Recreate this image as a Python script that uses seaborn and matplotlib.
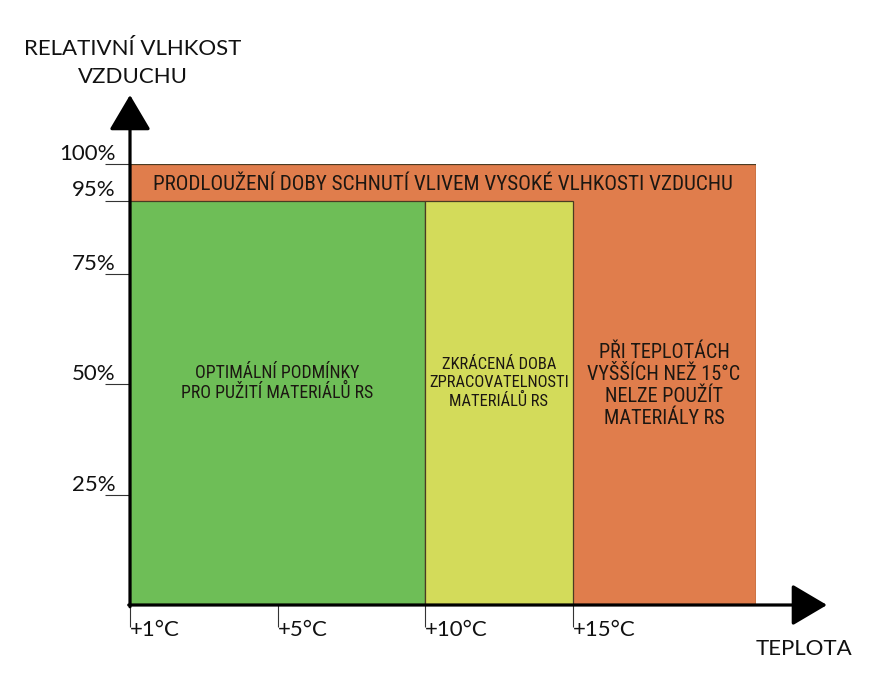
import numpy as np
import pandas as pd
import matplotlib
matplotlib.use("Agg")
import matplotlib.pyplot as plt
import seaborn as sns

# ---------------- data ----------------
# relative humidity ticks (%) and their labels
RH_TICKS = [25, 50, 75, 95, 100]
RH_TICK_LABELS = ["25%", "50%", "75%", "95%", "100%"]
# temperature ticks (°C) and labels
TEMP_TICKS = [1, 5, 10, 15]
TEMP_TICK_LABELS = ["+1°C", "+5°C", "+10°C", "+15°C"]

# zones (drawn in this order)
ZONE_NAMES = ["vlhkost", "optimalni", "zkracena"]
ZONE_T_START = [1, 1, 10]
ZONE_T_END = [21.2, 10, 15]
ZONE_RH_LOW = [0, 0, 0]
ZONE_RH_HIGH = [100, 95, 95]
ZONE_COLORS = ["#E07D4C", "#6EBE57", "#D3DB5A"]

# zone texts
LABEL_TEXTS = [
    "PRODLOUŽENÍ DOBY SCHNUTÍ VLIVEM VYSOKÉ VLHKOSTI VZDUCHU",
    "OPTIMÁLNÍ PODMÍNKY\nPRO PUŽITÍ MATERIÁLŮ RS",
    "ZKRÁCENÁ DOBA\nZPRACOVATELNOSTI\nMATERIÁLŮ RS",
    "PŘI TEPLOTÁCH\nVYŠŠÍCH NEŽ 15°C\nNELZE POUŽÍT\nMATERIÁLY RS",
]
LABEL_T_RANGE = [(1, 21.2), (1, 10), (10, 15), (15, 21.2)]
LABEL_RH = [97.2, 50.2, 50.2, 49.7]

Y_TITLE = "RELATIVNÍ VLHKOST\nVZDUCHU"
X_TITLE = "TEPLOTA"

# ---------------- axis scales (non-uniform, as in the original) ----------------
_RH_REF = [0, 25, 50, 75, 95, 100]
_RH_POS = [0, 110, 221, 331, 404.5, 441]
_T_REF = [1, 5, 10, 15]
_T_POS = [0, 1, 2, 3]


def y_fwd(v):
    return np.interp(np.asarray(v, float), _RH_REF, _RH_POS)


def y_inv(p):
    return np.interp(np.asarray(p, float), _RH_POS, _RH_REF)


def x_fwd(t):
    t = np.asarray(t, float)
    return np.where(t <= 15, np.interp(t, _T_REF, _T_POS), 3 + (t - 15) / 5.0)


def x_inv(p):
    p = np.asarray(p, float)
    return np.where(p <= 3, np.interp(p, _T_POS, _T_REF), 15 + (p - 3) * 5.0)


# ---------------- style ----------------
sns.set_theme(style="white")
plt.rcParams["font.family"] = ["Lato", "DejaVu Sans"]
NARROW = ["Roboto Condensed", "Lato", "DejaVu Sans"]
TXT = "#1c1712"

df = pd.DataFrame({
    "name": ZONE_NAMES, "t0": ZONE_T_START, "t1": ZONE_T_END,
    "rh0": ZONE_RH_LOW, "rh1": ZONE_RH_HIGH, "color": ZONE_COLORS,
})

W, H = 877, 682
fig = plt.figure(figsize=(W / 100, H / 100), dpi=100)
ax = fig.add_axes([130 / W, 77 / H, 625.6 / W, 441 / H])
ax.set_xscale("function", functions=(x_fwd, x_inv))
ax.set_yscale("function", functions=(y_fwd, y_inv))

for _, r in df.iterrows():
    ax.bar(r["t0"], r["rh1"] - r["rh0"], width=r["t1"] - r["t0"], bottom=r["rh0"],
           align="edge", color=r["color"], edgecolor="#4a3b22", linewidth=0.9, zorder=1)

ax.set_xlim(1, 21.2)
ax.set_ylim(0, 100)

# zone labels
sizes = [15.2, 12.8, 11.9, 14.6]
spacings = [1.0, 1.1, 1.22, 1.2]
for text, (ta, tb), rh, fs, ls in zip(LABEL_TEXTS, LABEL_T_RANGE, LABEL_RH, sizes, spacings):
    xc = float(x_inv((x_fwd(ta) + x_fwd(tb)) / 2))
    ax.text(xc, rh, text, ha="center", va="center", multialignment="center",
            fontsize=fs, family=NARROW, color=TXT, linespacing=ls, zorder=4)

# ticks
ax.set_yticks(RH_TICKS)
ax.set_yticklabels(RH_TICK_LABELS)
ax.set_xticks(TEMP_TICKS)
ax.set_xticklabels(TEMP_TICK_LABELS)
ax.minorticks_off()
ax.tick_params(axis="y", direction="out", length=18, width=0.8, color="#333333",
               pad=-7.5, labelsize=16, labelcolor="#111111", left=True)
ax.tick_params(axis="x", direction="out", length=16, width=0.8, color="#333333",
               pad=-5, labelsize=16, labelcolor="#111111", bottom=True)
for lab in ax.get_yticklabels():
    lab.set_va("bottom")
for lab in ax.get_xticklabels():
    lab.set_ha("left")

for s in ax.spines.values():
    s.set_visible(False)

# axis arrows
arrow_kw = dict(arrowstyle="-|>,head_length=1.1,head_width=0.65", mutation_scale=20,
                lw=2.3, color="black", shrinkA=0, shrinkB=0)
ax.annotate("", xy=(0, 1.1565), xytext=(0, -0.004), xycoords="axes fraction",
            arrowprops=arrow_kw, annotation_clip=False, zorder=5)
ax.annotate("", xy=(1.1141, 0), xytext=(-0.002, 0), xycoords="axes fraction",
            arrowprops=arrow_kw, annotation_clip=False, zorder=5)

# axis titles
fig.text(133 / W, 1 - 63 / H, Y_TITLE, ha="center", va="center", fontsize=16,
         color="#111111", linespacing=1.5)
fig.text(804 / W, 1 - 649 / H, X_TITLE, ha="center", va="center", fontsize=16,
         color="#111111")

fig.savefig("out.png", dpi=100)
